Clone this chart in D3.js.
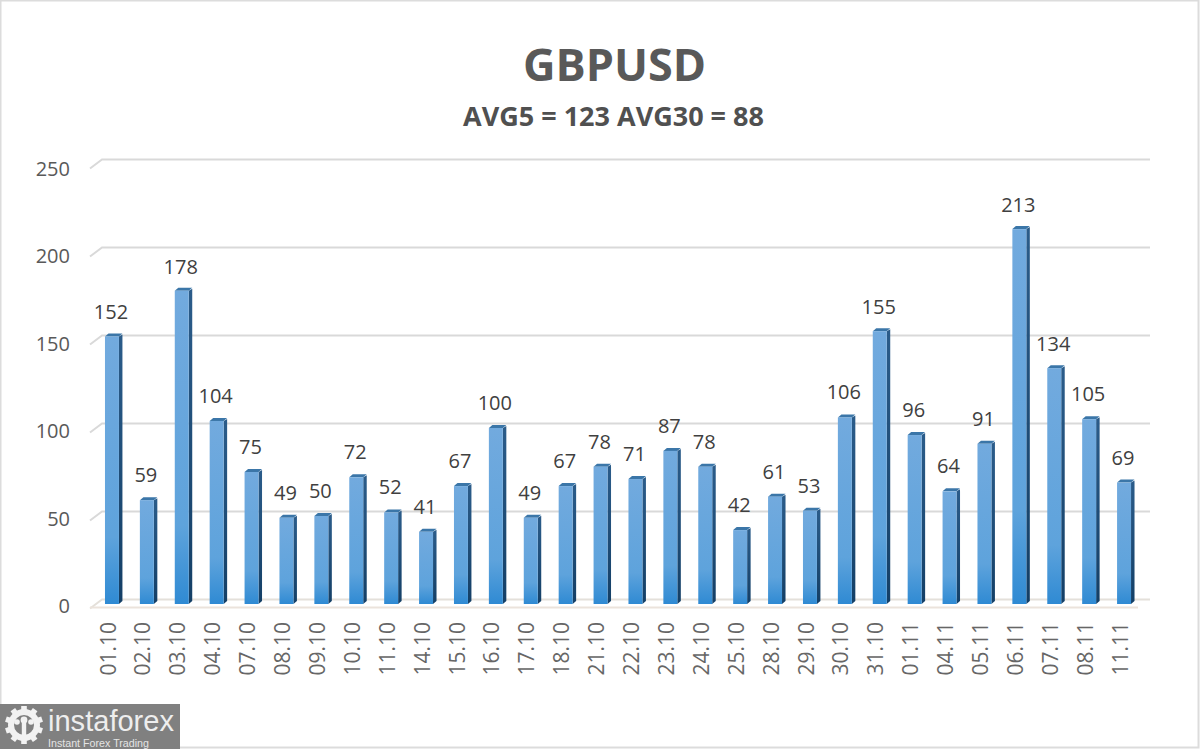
<!DOCTYPE html>
<html><head><meta charset="utf-8">
<script src="https://cdn.jsdelivr.net/npm/d3@7"></script>
<style>html,body{margin:0;padding:0;background:#fff}svg{display:block}text{font-family:"Open Sans",sans-serif}</style>
</head><body><svg id="c" width="1200" height="749"></svg>
<script>
const categories=["01.10","02.10","03.10","04.10","07.10","08.10","09.10","10.10","11.10","14.10","15.10","16.10","17.10","18.10","21.10","22.10","23.10","24.10","25.10","28.10","29.10","30.10","31.10","01.11","04.11","05.11","06.11","07.11","08.11","11.11"];
const values=[152,59,178,104,75,49,50,72,52,41,67,100,49,67,78,71,87,78,42,61,53,106,155,96,64,91,213,134,105,69];
const yTicks=[0,50,100,150,200,250];
const chartTitle="GBPUSD";
const chartSubtitle="AVG5 = 123 AVG30 = 88";

const svg=d3.select("#c");
const defs=svg.append("defs");
const g1=defs.append("linearGradient").attr("id","front").attr("x1",0).attr("x2",0).attr("y1",0).attr("y2",1);
g1.append("stop").attr("offset","0%").attr("stop-color","#72aade");
g1.append("stop").attr("offset","75%").attr("stop-color","#5ea3dc");
g1.append("stop").attr("offset","100%").attr("stop-color","#2f8ad3");
const g2=defs.append("linearGradient").attr("id","side").attr("x1",0).attr("x2",0).attr("y1",0).attr("y2",1);
g2.append("stop").attr("offset","0%").attr("stop-color","#2b5c8a");
g2.append("stop").attr("offset","100%").attr("stop-color","#143f66");

// photo frame
svg.append("rect").attr("x",0.5).attr("y",0.5).attr("width",1198).attr("height",747).attr("fill","#fff").attr("stroke","#dcdcdc").attr("stroke-width",2);

const x=d3.scaleBand().domain(categories).range([95.2,1140.8]).paddingInner(0.6).paddingOuter(0.28);
const y=d3.scaleLinear().domain([0,250]).range([604,164]);
const depthY=-4.5;

// gridlines (back wall and side wall)
const grid=svg.append("g");
yTicks.forEach(t=>{
  const yy=y(t)+depthY;
  grid.append("path")
    .attr("d",`M90,${yy+9}L102,${yy}L1150,${yy}`)
    .attr("fill","none").attr("stroke",t===0?"#e4e0da":"#d9d9d9").attr("stroke-width",2);
});
grid.append("path").attr("d",`M90,${y(0)+3.5}L1138,${y(0)+3.5}`).attr("stroke","#ebe3dc").attr("stroke-width",2).attr("fill","none");

// y axis
const yLabelScale=d3.scaleLinear().domain([0,250]).range([606,169]);
const yAxis=d3.axisLeft(yLabelScale).tickValues(yTicks).tickSize(0).tickPadding(0);
const ya=svg.append("g").attr("transform","translate(70,0)").call(yAxis);
ya.select(".domain").remove();
ya.selectAll("text").attr("font-size",20).attr("fill","#595959");

// x axis
const xAxis=d3.axisBottom(x).tickSize(0).tickPadding(0);
const xa=svg.append("g").attr("transform","translate(0,622)").call(xAxis);
xa.select(".domain").remove();
xa.selectAll("text").attr("font-size",21).attr("fill","#666666")
  .attr("text-anchor","end").attr("dy",0).attr("y",0)
  .attr("transform","translate(-2,0) rotate(-90)").attr("dominant-baseline","middle");

// bars
const bars=svg.append("g").selectAll("g").data(values).join("g").attr("transform",(d,i)=>`translate(${x(categories[i])},0)`);
const w=x.bandwidth(), sd=3.5, td=3;
bars.append("path").attr("fill","url(#side)")
  .attr("d",d=>`M${w},${y(d)}L${w+sd},${y(d)-td+1}L${w+sd},${y(0)-3}L${w},${y(0)}Z`);
bars.append("path").attr("fill","#3b76a8")
  .attr("d",d=>`M0,${y(d)}L${sd},${y(d)-td}L${w+sd},${y(d)-td}L${w},${y(d)}Z`);
bars.append("rect").attr("fill","url(#front)").attr("x",0).attr("width",w)
  .attr("y",d=>y(d)).attr("height",d=>y(0)-y(d));

// value labels
svg.append("g").selectAll("text").data(values).join("text")
  .attr("x",(d,i)=>x(categories[i])+w/2-1)
  .attr("y",d=>y(d)-(d<110?18:17))
  .attr("text-anchor","middle").attr("font-size",20).attr("fill","#404040").text(d=>d);

// titles
svg.append("text").attr("x",614.5).attr("y",81).attr("text-anchor","middle").attr("font-size",45).attr("font-weight",700).attr("fill","#595959").text(chartTitle);
svg.append("text").attr("x",613.5).attr("y",126).attr("text-anchor","middle").attr("font-size",27).attr("font-weight",700).attr("fill","#505050").text(chartSubtitle);

// logo
const logo=svg.append("g");
logo.append("rect").attr("x",0).attr("y",704).attr("width",180).attr("height",45).attr("fill","#808080");
const gear=logo.append("g").attr("transform","translate(24,725)");
gear.append("circle").attr("r",13).attr("fill","none").attr("stroke","#f2f2f2").attr("stroke-width",6);
d3.range(10).forEach(i=>gear.append("rect").attr("x",-2.8).attr("y",-19).attr("width",5.6).attr("height",6).attr("fill","#f2f2f2").attr("transform",`rotate(${i*36})`));
gear.append("circle").attr("cy",-5).attr("r",3.4).attr("fill","#f2f2f2");
gear.append("circle").attr("cx",-7).attr("cy",-3).attr("r",2.8).attr("fill","#f2f2f2");
gear.append("circle").attr("cx",7).attr("cy",-3).attr("r",2.8).attr("fill","#f2f2f2");
gear.append("rect").attr("x",-2.2).attr("y",-3).attr("width",4.4).attr("height",18).attr("fill","#f2f2f2");
logo.append("text").attr("x",48).attr("y",731).attr("font-size",29).style("font-family","'Liberation Sans',sans-serif").attr("fill","#eeeeee").attr("textLength",126).attr("lengthAdjust","spacingAndGlyphs").text("instaforex");
logo.append("text").attr("x",48).attr("y",746.5).attr("font-size",10).style("font-family","'Liberation Sans',sans-serif").attr("fill","#e4e4e4").attr("textLength",101).attr("lengthAdjust","spacingAndGlyphs").text("Instant Forex Trading");
</script></body></html>
